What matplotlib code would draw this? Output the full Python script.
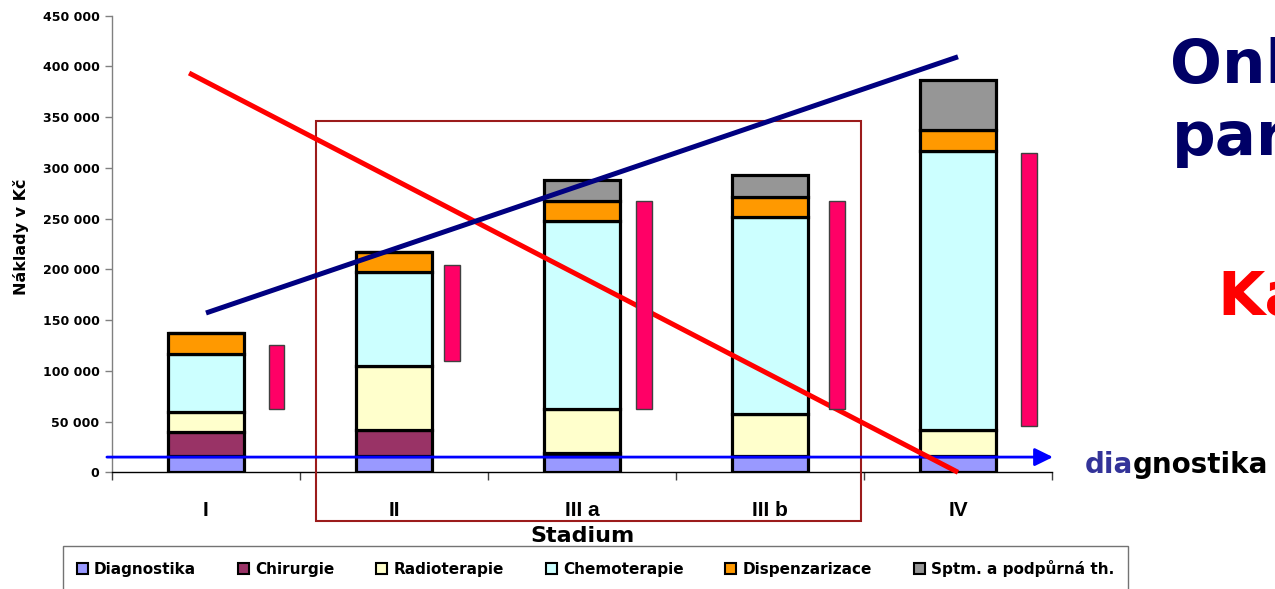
import matplotlib
matplotlib.use("Agg")
import matplotlib.pyplot as plt
from matplotlib.patches import Patch, Rectangle
from matplotlib.ticker import FuncFormatter

# ---- data -------------------------------------------------------------
stages = ["I", "II", "III a", "III b", "IV"]

diagnostika = [16000, 16000, 16000, 16000, 16000]
chirurgie = [24000, 26000, 3000, 0, 0]
radioterapie = [19000, 63000, 43000, 41000, 26000]
chemoterapie = [58000, 92000, 186000, 195000, 275000]
dispenzarizace = [20000, 20000, 19000, 19000, 20000]
sptm = [0, 0, 21000, 22000, 50000]

series_names = ["Diagnostika", "Chirurgie", "Radioterapie", "Chemoterapie",
                "Dispenzarizace", "Sptm. a podpůrná th."]
series_colors = ["#9999FF", "#993366", "#FFFFCC", "#CCFFFF", "#FF9900", "#969696"]

# cost ranges shown as narrow floating bars
range_low = [62000, 110000, 62000, 62000, 46000]
range_high = [125000, 204000, 267000, 267000, 315000]

# trend lines (stage position, cost)
falling_x = [-0.09, 4.0]
falling_y = [393500, 0]
rising_x = [0.0, 4.0]
rising_y = [157000, 409500]

diag_level = 15000

# ---- figure -------------------------------------------------------------
W, H = 1275, 589
fig = plt.figure(figsize=(W / 100, H / 100), dpi=100)
fig.patch.set_facecolor("white")
ax = fig.add_axes([112 / W, 1 - 472.3 / H, 940 / W, 456.6 / H])

bold = dict(family="DejaVu Sans", fontweight="bold")

x = list(range(len(stages)))
bottom = [0] * len(stages)
for vals, col in zip([diagnostika, chirurgie, radioterapie, chemoterapie,
                      dispenzarizace, sptm], series_colors):
    ax.bar(x, vals, bottom=bottom, width=0.40, color=col, edgecolor="black",
           linewidth=2.3, zorder=2)
    bottom = [b + v for b, v in zip(bottom, vals)]

# floating range bars beside each stage
range_shift = [0.375, 0.311, 0.332, 0.354, 0.376]
ax.bar([i + s for i, s in zip(x, range_shift)],
       [h - l for h, l in zip(range_high, range_low)], bottom=range_low,
       width=0.085, color="#FF0066", edgecolor="#404040", linewidth=1.0,
       zorder=6)

# highlighted stages frame
ax.add_patch(Rectangle((0.585, -48000), 3.484 - 0.585, 346200 + 48000,
                       fill=False, edgecolor="#9B1B1B", linewidth=1.5,
                       clip_on=False, zorder=3))

# diagnostics level arrow
ax.annotate("", xy=(4.505, diag_level), xytext=(-0.527, diag_level),
            xycoords="data", textcoords="data", annotation_clip=False,
            arrowprops=dict(arrowstyle="-|>,head_length=0.55,head_width=0.27",
                            mutation_scale=20, color="#0000FF", lw=2.0,
                            shrinkA=0, shrinkB=0), zorder=4)

ax.plot(falling_x, falling_y, color="#FF0000", lw=3.6, solid_capstyle="butt",
        zorder=5, clip_on=False)
ax.plot(rising_x, rising_y, color="#000080", lw=3.6, solid_capstyle="butt",
        zorder=5, clip_on=False)

# ---- axes ---------------------------------------------------------------
ax.set_xlim(-0.5, 4.5)
ax.set_ylim(0, 450000)
for s in ["top", "right"]:
    ax.spines[s].set_visible(False)
ax.spines["left"].set_color("#808080")
ax.spines["left"].set_linewidth(1.0)
ax.spines["bottom"].set_color("black")
ax.spines["bottom"].set_linewidth(1.0)

ax.set_yticks(range(0, 450001, 50000))
ax.yaxis.set_major_formatter(FuncFormatter(lambda v, p: f"{int(v):,}".replace(",", " ")))
ax.tick_params(axis="y", direction="out", length=5, width=1, color="#808080",
               pad=4, labelsize=9)
for lbl in ax.get_yticklabels():
    lbl.set_fontfamily("DejaVu Sans")
    lbl.set_fontweight("bold")

ax.set_xticks([i - 0.5 for i in range(len(stages) + 1)])
ax.set_xticklabels([])
ax.tick_params(axis="x", which="major", direction="out", length=6, width=1,
               color="#404040")
ax.set_xticks(x, minor=True)
ax.set_xticklabels(stages, minor=True, family="Liberation Sans",
                   fontweight="bold", fontsize=15)
ax.tick_params(axis="x", which="minor", length=0, pad=21)

ax.text(0.5, -0.1527, "Stadium", transform=ax.transAxes, ha="center",
        va="baseline", fontsize=16, **bold)
ax.text(-0.0968, 0.515, "Náklady v Kč", transform=ax.transAxes, ha="center",
        va="center", rotation=90, fontsize=11.5, **bold)

# ---- legend -------------------------------------------------------------
handles = [Patch(facecolor=c, edgecolor="black", linewidth=1.5, label=n)
           for n, c in zip(series_names, series_colors)]
leg = fig.legend(handles=handles, loc="upper left",
                 bbox_to_anchor=(63 / W, 1 - 552 / H, 1065 / W, 0.01),
                 mode="expand", ncol=6, frameon=True, fancybox=False,
                 borderaxespad=0, borderpad=0.9, handlelength=0.72,
                 handleheight=0.72, handletextpad=0.4,
                 prop=dict(family="DejaVu Sans", weight="bold", size=11))
leg.get_frame().set_edgecolor("#505050")
leg.get_frame().set_linewidth(1.0)

# ---- slide text on the right ---------------------------------------------
fig.text(1170 / W, 1 - 83 / H, "Onk", color="#000066", fontsize=44,
         va="baseline", ha="left", **bold)
fig.text(1172 / W, 1 - 155 / H, "par", color="#000066", fontsize=44,
         va="baseline", ha="left", **bold)
fig.text(1217 / W, 1 - 315 / H, "Ka", color="#FF0000", fontsize=44,
         va="baseline", ha="left", **bold)

t1 = fig.text(1085 / W, 1 - 473 / H, "dia", color="#333399", fontsize=20,
              va="baseline", ha="left", **bold)
ax.annotate("gnostika", xy=(1, 0), xycoords=t1, va="bottom", ha="left",
            color="black", fontsize=20, annotation_clip=False, **bold)

fig.savefig("out.png", dpi=100)
